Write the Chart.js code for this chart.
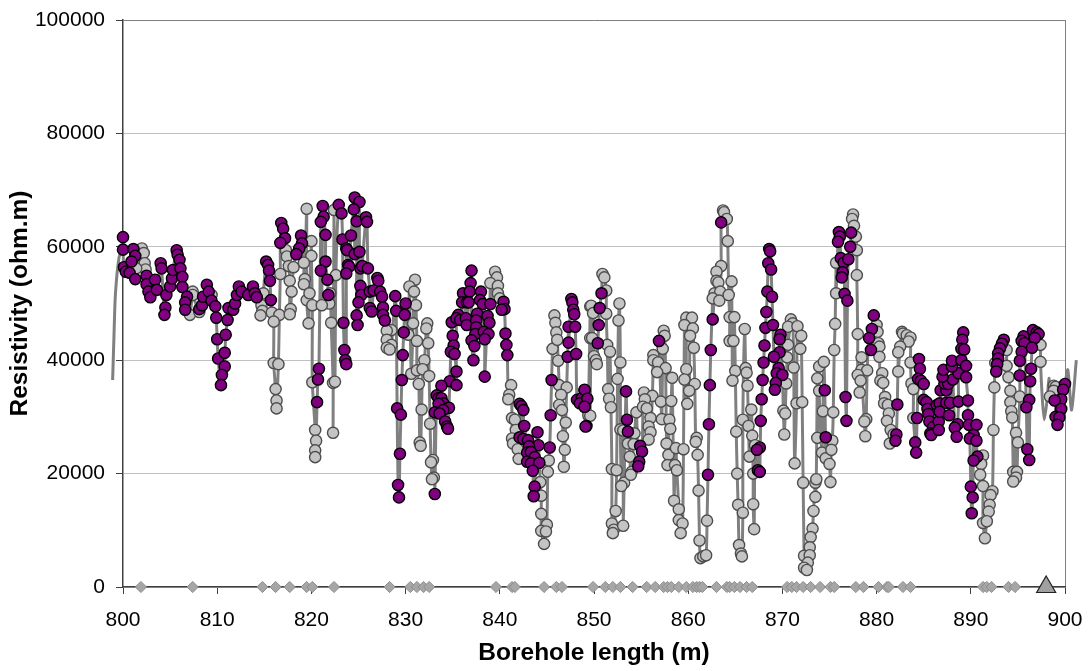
<!DOCTYPE html>
<html>
<head>
<meta charset="utf-8">
<title>Resistivity along borehole</title>
<script src="https://cdn.jsdelivr.net/npm/chart.js@4"></script>
<style>
  html, body { margin: 0; padding: 0; background: #fff; }
  #wrap { width: 1088px; height: 671px; }
</style>
</head>
<body>
<div id="wrap"><canvas id="chart" width="1088" height="671"></canvas></div>
<script>
// [borehole length m, resistivity ohm.m]
const purple800 = [[800,61700],[800,59500],[800.1,56400],[800.3,55600],[800.7,55400],[801.1,59600],[801.3,58400],[800.9,57400],[801.3,54300],[802.5,54900],[802.5,53400],[802.7,52100],[803.4,54200],[802.9,51100],[803.6,52400],[804,57100],[804.1,56200],[804.5,49300],[804.4,48000],[804.6,51500],[805,53000],[805.2,54400],[805.3,55900],[805.7,59400],[805.8,58600],[806,57700],[806.1,56200],[806.3,54700],[806.3,52900],[806.8,51200],[806.6,50200],[806.6,48900],[808.1,49000],[808.4,49700],[808.5,51200],[808.9,53300],[809.1,52100],[809.4,50500],[809.8,49500],[809.9,47500],[810,43700],[810.1,40300],[810.8,41300],[810.9,44500],[810.8,38900],[810.5,37400],[810.4,35600],[811.1,47100],[811.2,49200],[811.7,48900],[811.9,50000],[812.1,51500],[812.3,53000],[812.6,52100],[813.3,51500],[813.8,53000],[814,51800],[814.2,51100],[815.2,57400],[815.4,56800],[815.5,55800],[815.6,54000],[815.7,50600],[816.8,64200],[817,63200],[817.2,61500],[816.7,60700],[818.9,62000],[819,60600],[818.7,59700],[818.4,58700],[821.2,67200],[821.3,65300],[821,64400],[821.5,62100],[821.5,57400],[821,55800],[821.7,54200],[821.8,51500],[823.4,46600],[823.5,41800],[823.6,40000],[823.7,39300],[820.8,38500],[820.7,36600],[820.6,32600],[822.9,67400],[823.2,65900],[823.3,61300],[823.7,59700],[823.9,56800]];
const purple824 = [[824.6,68700],[825.1,67900],[824.5,66600],[824.8,64500],[825.8,65200],[825.9,64400],[824.2,62000],[823.8,59400],[824.6,58700],[825.1,59100],[824,56500],[823.7,55300],[825.2,56200],[825.4,56600],[826,56200],[825.2,53100],[825.3,51500],[825,50200],[824.8,47900],[824.9,46200],[827,54500],[827.1,54000],[826.2,52100],[826.6,52300],[827.3,52100],[827.5,51200],[826.2,49200],[826.4,48600],[827.6,49300],[827.6,48000],[827.8,47000],[828.9,51300],[829,48700],[830,50000],[829.9,48000],[829.8,44900],[829.7,40900],[829.6,36500],[829.1,31500],[829.5,30400],[829.4,23500],[829.2,18000],[829.3,15800],[834.9,46700],[835,44300],[835.1,42600],[834.8,41500],[835.2,41100],[835.4,38000],[834.7,36300],[835.4,35600],[833.8,35500],[833.3,33800],[833.5,33300],[833.8,33300],[834,32400],[833.5,32300],[834.6,31600],[834,31200],[833.1,30800],[833.6,30600],[834.2,29200],[834.4,28300],[834.5,27900],[833.1,16400]];
const purple837 = [[837,55800],[836.9,53600],[836.1,51800],[836.8,52100],[838,52100],[836,50200],[836.5,50200],[836.7,50200],[837.9,50600],[838.2,49900],[839,49900],[835.6,48000],[835.4,47400],[835.8,47100],[836.4,47400],[836.5,46200],[837.6,48200],[837.5,47000],[838.7,47800],[838.9,46600],[837.5,45800],[837.4,44600],[838.3,45000],[838.8,44600],[838.4,43700],[837,43500],[837.3,42500],[837.2,40000],[838.4,37100],[840.4,50300],[840.5,49000],[840.2,48900],[840.6,44700],[840.7,42700],[840.8,40900],[842.1,32300],[842.3,31900],[842.5,31200],[842.6,28400],[842.1,26400],[842.5,26100],[843,25900],[844,27300],[844.1,25000],[843.1,24800],[842.9,23700],[843.3,23800],[843.7,22900],[842.9,22100],[843.3,21800],[844.2,21900],[843.5,20500],[843.7,17700],[843.6,16000],[845.3,24600],[845.4,30300],[845.5,36500],[847.6,50800],[847.7,50200],[847.8,48900],[847.9,48100],[847.3,45900],[848,45900],[847.3,43100],[847.2,40600],[848.1,41100],[849,34700],[848.2,33000],[848.7,33300],[849.2,33000],[848.5,32400],[849,31800],[849.2,28400]];
const purple850 = [[850.8,51800],[850.6,49200],[850.5,46200],[850.4,43000],[849,34800],[849.3,33200],[849,31800],[849.1,28300],[853.4,34500],[853.5,29500],[853.6,27400],[854.9,24900],[855.1,23900],[854.8,22100],[854.7,21300],[856.9,43400],[862.6,47200],[862.4,41800],[862.3,35600],[862.2,28700],[862.1,19800],[863.5,64300],[868.6,59600],[868.7,59200],[868.5,57100],[868.8,56000],[868.4,52100],[868.9,51200],[868.3,48500],[868.2,45700],[869,46200],[868.1,42600],[868,39600],[867.9,36500],[867.8,33100],[867.7,29300],[867.6,24600],[867.3,24200],[867.4,20600],[867.6,20300],[869.8,44500],[869.7,43700],[869.7,41400],[869.1,40600],[869.6,38600],[869.4,37700],[870,37400],[869.3,36000],[869.2,34800]];
const purple875 = [[876,62600],[876.1,61800],[875.9,60900],[876.2,58000],[876.5,57200],[877,57800],[876.4,55500],[876.3,54600],[877.3,62500],[877.2,60000],[876.6,51700],[876.9,50500],[876.7,33500],[876.8,29300],[874.5,34700],[874.6,26400],[879.7,47900],[879.5,45500],[879.2,43900],[879.4,41800],[882.2,32200],[882.1,26900],[882,25800],[884.5,40200],[884.6,38500],[884.4,36700],[884.7,36400],[885,35800],[884.3,29800],[884.1,25500],[884.2,23700],[885,33000],[885.3,32600],[885.4,31400],[885.5,30500],[885.6,29200],[886,28200],[885.7,27100],[885.8,26800],[886.6,29200],[886.6,27700],[886.4,32100],[886.7,32400],[886.7,30900],[887.4,32500],[887.8,32500],[888.7,32700],[889.7,32900],[887.7,30300],[888.6,28700],[888.3,28100],[888.5,26500],[886.8,34700],[887.4,34700],[887.2,35900],[887.6,35800],[888.1,36600],[888.7,37700],[887,37100],[887.1,38300],[888,38900],[888,39900],[889,40000],[889.5,39000],[889.5,37000],[889.2,44900],[889.1,43600],[889,42000],[889.3,41900],[889.7,30300],[889.8,28600],[890.6,28600],[890.3,26800],[889.9,26200],[890.6,25800],[890.7,23000],[890.3,22300],[890,17700],[890.2,15800],[890.1,13000],[893.5,43600],[893.3,42900],[893.1,42100],[892.9,41200],[892.9,40300],[892.8,39300],[892.7,38000],[895.6,44200],[895.4,43400],[895.7,43000],[895.4,41500],[895.2,39900],[895.2,37300],[896.4,38500],[896.3,36300],[896.2,33000],[895.9,31700],[896,24300],[896.2,22400],[896.6,45300],[897,44900],[897.2,44600],[896.8,43900],[896.5,42200],[900,35800],[899.8,34800],[899.6,33100],[898.9,32900],[899.6,31400],[899,30000],[899.4,29900],[899.2,28600]];

const grey800 = [[802,59700],[802.2,58900],[802.3,57100],[802.4,56000],[801.4,56200],[807.1,48000],[807.4,52100],[807.4,51500],[808.1,48500],[809.4,51500],[814.9,51800],[814.7,49700],[814.8,48700],[814.6,47900],[815.8,48400],[816.6,48000],[816,46800],[816,39500],[816.5,39300],[816.2,34900],[816.3,32900],[816.3,31500],[816.7,55200],[817.3,59400],[817.4,58300],[817.6,56600],[818.1,56400],[817.7,54000],[817.9,52100],[817.8,49000],[817.7,48100],[819.5,66700],[820,61000],[820,58400],[819.2,57200],[819.3,54300],[819.2,53400],[819.5,50600],[819.8,51800],[820.1,49700],[819.7,46500],[820.1,36100],[822.3,36000],[822.5,36200],[822.6,55000],[822,51800],[821.9,50000],[822.1,46600],[822.4,66500],[822.3,27200],[820.4,27700],[820.5,25800],[820.4,24100],[820.4,22900],[821.1,49700]];
const grey830 = [[831,54200],[830.4,53000],[830.9,52100],[831.1,49700],[830.8,46500],[830.3,44500],[831.2,43400],[832.3,46500],[832.2,45600],[832.4,43000],[828.5,45300],[828,45200],[828,43600],[828.5,42700],[828,42200],[828.3,41900],[832,40000],[830.6,37600],[831.2,38200],[831.8,38400],[832.5,37200],[831.4,35800],[831.7,31300],[832.6,28800],[831.5,25500],[831.6,24900],[832.9,22400],[832.7,22000],[833,19300],[832.8,19000],[839.5,55600],[839.7,54600],[839,53600],[839.8,53100],[839.8,51800],[840,50900],[841.2,35600],[841,33900],[840.9,33100],[841.3,29800],[841.6,29500],[841.7,27700],[841.3,26200],[841.4,25300],[841.9,24300],[842,22600],[844.3,18500],[844.4,16100],[844.4,12900],[845,11000],[844.4,9900],[844.9,9800],[844.7,7600],[845.2,22300],[845.1,20300],[845.8,47900],[845.9,46600],[845.6,42000],[846,44900],[846.1,43600],[846.2,39900],[846.3,35600],[847.1,35200],[846.5,33900],[846.3,32100],[846.6,31200],[847,29000],[846.7,26600],[846.9,24200],[846.8,21200],[849.6,49500],[849.6,43900],[849.4,30300]];
const grey850 = [[850.9,55200],[851.1,54600],[851.3,52300],[849.7,49600],[849.9,48300],[851.3,48200],[849.8,43900],[850,40700],[850.2,40000],[850.3,39300],[851.4,42700],[851.7,41500],[852.7,50000],[852.6,47000],[852.8,39600],[852.5,36700],[851.5,34900],[851.6,33200],[851.8,31700],[849.6,30200],[852.8,27800],[853.1,27600],[851.9,20800],[852.4,20600],[853.2,18400],[852.9,17800],[852.3,13400],[851.9,11200],[852.1,10100],[852,9500],[853.1,10800],[853.6,25300],[854.3,27100],[854.5,30800],[854.2,25200],[853.8,23000],[854,20300],[853.9,19800],[855.3,34300],[856.2,33700],[855.4,33100],[855.2,31800],[855.6,31500],[856,29800],[855.8,28300],[856,27300],[855.8,26000],[857.4,45200],[857.5,44300],[857.3,42000],[856.3,40900],[856.3,40000],[856.8,39600],[857.6,38600],[856.7,37900],[858.3,36900],[857.1,32700],[858.2,32800],[857.2,29600],[858,29500],[858.1,27900],[857.7,25300],[857.9,23300],[857.8,21500],[858.7,24500],[858.6,21500],[858.8,20600],[858.5,15200],[859,13700],[859,11800],[859.4,11200],[859.2,9500],[859.5,24300],[859.8,47500],[860.4,47500],[859.6,46200],[860.5,45600],[860.2,44300],[860.6,42200],[859.8,38400],[859.6,36600],[860.7,35800],[860.1,34600],[859.9,32300]];
const grey861 = [[860.9,26300],[860.8,25600],[861,23300],[861.1,17000],[861.2,8200],[861.3,5100],[861.6,5400],[861.9,5600],[862,11700],[863.7,66400],[863.8,66100],[864.1,64900],[864.2,61000],[863.5,56600],[863,55600],[863,54000],[863.2,53700],[862.8,51800],[863.4,52100],[862.6,50900],[863.3,50500],[864.6,53900],[864.3,51500],[864.4,47600],[864.9,47600],[864.4,43400],[864.8,43400],[865,38100],[864.7,36400],[865.1,27400],[865.2,20000],[865.3,14500],[865.8,13100],[865.4,7400],[865.6,5900],[865.7,5400],[866,45500],[866.1,38600],[866.2,37800],[866.3,35500],[866.7,31300],[865.8,29500],[866.4,28400],[866.8,26700],[867.1,25000],[866.5,23000],[866.9,20000],[866.9,14600],[867,10200],[870.9,47200],[871.1,46500],[870.6,45900],[871.6,46000],[872,44300],[870.6,42700],[871.9,42000],[870.5,40500],[871.2,38700],[870.4,35900],[870.1,31100],[870.3,30600],[870.2,26900],[871.5,32400],[872.1,32600],[871.3,21800],[872.2,18400],[873.5,18400],[873.6,19000],[873.5,15900],[873.3,13400],[873.2,10300],[873,8800],[872.9,7000],[872.3,5500],[872.9,5600],[872.7,4300],[872.3,3400],[872.6,3000]];
const grey874 = [[873.9,38900],[874.4,39700],[873.7,36800],[873.9,34600],[874.3,31000],[873.7,26300],[874.2,23700],[874.6,22700],[875.3,25800],[875.2,24200],[875,21700],[875.1,18500],[877.5,65700],[877.4,64900],[877.6,63700],[877.8,61800],[877.9,59400],[877.9,55000],[875.7,57200],[875.7,51800],[875.6,46400],[875.5,41800],[875.4,30800],[878,44600],[878.4,40500],[878.4,38300],[879,38200],[878,37400],[878.3,36400],[878.2,34300],[878.9,29600],[878.7,29200],[878.8,26600],[880,46200],[880.1,45000],[880.2,43000],[880.3,42400],[880.3,40600],[880.6,37700],[880.4,36400],[880.7,36000],[880.9,33500],[880.8,32400],[881.2,32100],[881.3,30600],[881.1,29300],[881.5,27700],[881.8,26900],[881.4,25300],[882.7,45000],[882.8,44700],[883.2,44400],[883.6,44000],[883.4,43300],[882.5,42400],[882.3,41400],[882.3,38000],[883.6,39600],[883.7,35900],[883.9,34900],[883.9,29800],[891.3,23200],[891.1,21700],[891,19800],[891.3,17800],[892.3,16900],[892.1,16200],[892,14500],[891.9,13300],[891.3,11300],[891.7,11600],[891.5,8600],[892.4,27700],[892.5,35200],[893.8,41800],[892.6,39500],[893.8,39000],[894,37000],[894.2,34600],[895.2,33600],[894.2,32600],[894.3,31000],[894.4,29900],[894.8,27200],[895,25500],[894.5,20300],[894.9,20300],[894.8,19300],[894.5,18600],[897.4,42700],[897.4,39700],[898.8,35500],[899,35300],[898.8,34600],[898.4,33600]];

// line only, no marker. leadIn and tail run past the axis range, listed
// right to left so Chart.js does not cut them off as out of range points
const lineOnly = [[897.6,33000],[897.8,29500],[898.1,33000],[898.3,36800]];
const leadIn = [[800,59500],[799.6,58300],[799.2,51800],[799.04,44200],[798.9,36500]];
const tail = [[901.2,40000],[900.7,31200],[900.3,38300],[900,35800]];

const diamondLengths = [801.9,807.4,814.8,816.2,817.7,819.5,820.1,822.4,828.3,830.5,831.2,831.9,832.5,839.6,841.3,841.6,844.7,846,846.6,849.9,851.2,852,852.8,854.1,855.6,856.5,857.4,857.8,858.2,859,859.8,860.5,860.9,861.2,861.5,863,864.1,864.4,864.9,865.5,866.2,866.8,870.5,871,871.5,872.2,873,874,875.1,875.5,877.8,878.6,880.2,881.1,881.3,882.8,883.6,891.3,891.7,892.2,894,894.7];
const triangleLengths = [898];

const xTicks = [800,810,820,830,840,850,860,870,880,890,900];
const yTicks = [0,20000,40000,60000,80000,100000];

const toXY = p => ({ x: p[0], y: p[1] });
const greyPoints = [].concat(grey800, grey830, grey850, grey861, grey874);
const purplePoints = [].concat(purple800, purple824, purple837, purple850, purple875);
const linePoints = [].concat(greyPoints, purplePoints, lineOnly).sort((a, b) => a[0] - b[0]);

const FONT = '"Liberation Sans", Arial, sans-serif';
const lineStyle = { type: 'line', borderColor: '#808080', borderWidth: 3, tension: 0.25, pointRadius: 0, clip: false, order: 5 };

new Chart(document.getElementById('chart'), {
  type: 'scatter',
  data: {
    datasets: [
      Object.assign({ data: leadIn.map(toXY) }, lineStyle),
      Object.assign({ data: linePoints.map(toXY) }, lineStyle),
      Object.assign({ data: tail.map(toXY) }, lineStyle),
      { data: diamondLengths.map(x => ({ x: x, y: 0 })), pointStyle: 'rectRot', pointRadius: 5.6, backgroundColor: '#a6a6a6', borderColor: '#8c8c8c', borderWidth: 1, clip: false, order: 4 },
      { data: greyPoints.map(toXY), pointRadius: 5.6, backgroundColor: '#c4c4c4', borderColor: '#4d4d4d', borderWidth: 1.4, clip: false, order: 3 },
      { data: purplePoints.map(toXY), pointRadius: 5.6, backgroundColor: '#800080', borderColor: '#000', borderWidth: 1.4, clip: false, order: 2 },
      { data: triangleLengths.map(x => ({ x: x, y: 0 })), pointStyle: 'triangle', pointRadius: 11, backgroundColor: '#a0a0a0', borderColor: '#222', borderWidth: 1.2, clip: false, order: 1 }
    ]
  },
  options: {
    responsive: false,
    animation: false,
    layout: { autoPadding: false, padding: { top: 20, right: 23, left: 0, bottom: 0 } },
    plugins: { legend: { display: false }, tooltip: { enabled: false } },
    scales: {
      x: {
        type: 'linear', min: 800, max: 900,
        afterBuildTicks: s => { s.ticks = xTicks.map(v => ({ value: v })); },
        // the label overhang would otherwise shrink the plot area
        afterFit: s => { s.height = 84; s.paddingLeft = 0; s.paddingRight = 0; },
        border: { color: '#404040', width: 1.5 },
        grid: {
          color: c => (c.tick && c.tick.value === 900 ? '#808080' : 'rgba(0,0,0,0)'),
          tickColor: '#404040', tickLength: 7
        },
        ticks: { color: '#000', font: { family: FONT, size: 21 }, maxRotation: 0, padding: 14, callback: v => String(v) },
        title: { display: true, text: 'Borehole length (m)', color: '#000', font: { family: FONT, size: 24.5, weight: 'bold' }, padding: { top: 0, bottom: 3 } }
      },
      y: {
        min: 0, max: 100000,
        afterBuildTicks: s => { s.ticks = yTicks.map(v => ({ value: v })); },
        afterFit: s => { s.width = 123; s.paddingTop = 0; s.paddingBottom = 0; },
        border: { color: '#404040', width: 1.5 },
        grid: {
          color: c => (c.tick && c.tick.value === 100000 ? '#808080' : '#c0c0c0'),
          tickColor: '#404040', tickLength: 7
        },
        ticks: { color: '#000', font: { family: FONT, size: 21 }, padding: 11, callback: v => String(v) },
        title: { display: true, text: 'Resistivity (ohm.m)', color: '#000', font: { family: FONT, size: 24.5, weight: 'bold' }, padding: { top: 6, bottom: 0 } }
      }
    }
  }
});
</script>
</body>
</html>
